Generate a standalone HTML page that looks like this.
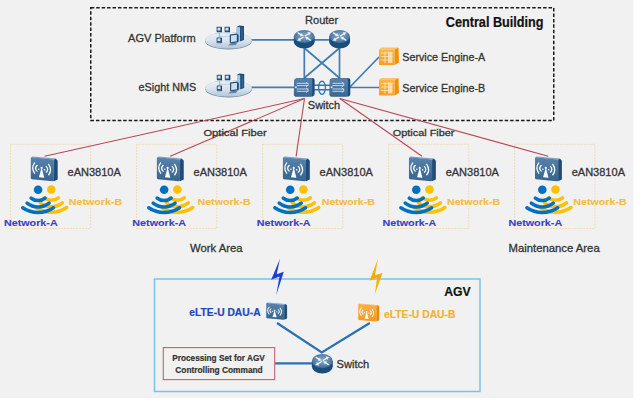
<!DOCTYPE html>
<html><head><meta charset="utf-8"><title>AGV Network</title>
<style>
html,body{margin:0;padding:0;background:#fff;width:640px;height:402px;overflow:hidden;}
svg{display:block;font-family:"Liberation Sans",sans-serif;}
</style></head>
<body>
<svg width="640" height="402" viewBox="0 0 640 402">
<defs>
 <linearGradient id="gPlat" x1="0" y1="0" x2="0" y2="1">
  <stop offset="0" stop-color="#eef3f7"/>
  <stop offset="0.55" stop-color="#d7e2ec"/>
  <stop offset="1" stop-color="#b3c5d6"/>
 </linearGradient>
 <linearGradient id="gCyl" x1="0" y1="0" x2="0" y2="1">
  <stop offset="0" stop-color="#6b94bb"/>
  <stop offset="1" stop-color="#3f6d98"/>
 </linearGradient>
 <radialGradient id="gCylR" cx="0.5" cy="0.45" r="0.55">
  <stop offset="0" stop-color="#8aa9c8"/>
  <stop offset="0.6" stop-color="#6189b0"/>
  <stop offset="1" stop-color="#3f6c98"/>
 </radialGradient>
 <linearGradient id="gSw" x1="0" y1="0" x2="0" y2="1">
  <stop offset="0" stop-color="#5681ab"/>
  <stop offset="1" stop-color="#3a6691"/>
 </linearGradient>
 <linearGradient id="gAP" x1="0" y1="0" x2="0" y2="1">
  <stop offset="0" stop-color="#5883ad"/>
  <stop offset="1" stop-color="#36638f"/>
 </linearGradient>
 <linearGradient id="gAPo" x1="0" y1="0" x2="0" y2="1">
  <stop offset="0" stop-color="#fbb04a"/>
  <stop offset="1" stop-color="#f39a1e"/>
 </linearGradient>
 <linearGradient id="gSE" x1="0" y1="0" x2="0" y2="1">
  <stop offset="0" stop-color="#fbb448"/>
  <stop offset="1" stop-color="#f6a021"/>
 </linearGradient>
 <linearGradient id="gBoltO" x1="0" y1="0" x2="0" y2="1">
  <stop offset="0" stop-color="#ffc000"/>
  <stop offset="0.5" stop-color="#f8a800"/>
  <stop offset="1" stop-color="#ffc000"/>
 </linearGradient>

 <!-- platform icon: origin = ellipse center -->
 

 <!-- router cylinder: origin = top ellipse center -->
 

 <!-- agv switch cylinder: origin = top ellipse center -->
 

 <!-- L3 switch box: origin top-left of front face -->
 

 <!-- service engine: origin top-left -->
 

 <!-- AP icon: origin top-left -->
 
 
 
 

 <!-- wifi: origin = dot center -->
 
 
</defs>

<rect x="0" y="0" width="640" height="402" fill="#ffffff"/>
<rect x="0" y="0" width="633.4" height="398" fill="#f1f1f1"/>
<rect x="90.75" y="7.75" width="463" height="112.75" fill="none" stroke="#1a1a1a" stroke-width="1.5" stroke-dasharray="3.5 1.95"/>
<rect x="10.50" y="144.3" width="80.2" height="84.2" fill="none" stroke="#f0dcb8" stroke-width="1" stroke-dasharray="2 1"/>
<rect x="136.55" y="144.3" width="80.2" height="84.2" fill="none" stroke="#f0dcb8" stroke-width="1" stroke-dasharray="2 1"/>
<rect x="262.60" y="144.3" width="80.2" height="84.2" fill="none" stroke="#f0dcb8" stroke-width="1" stroke-dasharray="2 1"/>
<rect x="388.65" y="144.3" width="80.2" height="84.2" fill="none" stroke="#f0dcb8" stroke-width="1" stroke-dasharray="2 1"/>
<rect x="514.70" y="144.3" width="80.2" height="84.2" fill="none" stroke="#f0dcb8" stroke-width="1" stroke-dasharray="2 1"/>
<line x1="304.5" y1="98.5" x2="44.5" y2="156.3" stroke="#b8475a" stroke-width="1.1"/>
<line x1="304.5" y1="98.5" x2="170.2" y2="156.3" stroke="#b8475a" stroke-width="1.1"/>
<line x1="304.5" y1="98.5" x2="296.1" y2="156.3" stroke="#b8475a" stroke-width="1.1"/>
<line x1="339.7" y1="98.5" x2="422.0" y2="156.3" stroke="#b8475a" stroke-width="1.1"/>
<line x1="339.7" y1="98.5" x2="548.3" y2="156.3" stroke="#b8475a" stroke-width="1.1"/>
<line x1="250" y1="39.8" x2="340" y2="39.8" stroke="#3f7db4" stroke-width="1.7" fill="none"/>
<line x1="250" y1="87.3" x2="296" y2="87.3" stroke="#3f7db4" stroke-width="1.7" fill="none"/>
<path d="M304.3,45 V79 M339.5,45 V79 M304.3,48 L339.5,78 M339.5,48 L304.3,78" stroke="#3f7db4" stroke-width="1.7" fill="none"/>
<path d="M349.5,87.5 L379,87.5 M349.5,87.5 L379,57" stroke="#3f7db4" stroke-width="1.7" fill="none"/>
<path d="M313,85.3 H331 M313,89.7 H331" stroke="#2e75b6" stroke-width="1.4"/>
<ellipse cx="322" cy="87.7" rx="3.4" ry="6.6" fill="none" stroke="#2e75b6" stroke-width="1.3"/>
<g transform="translate(228.4,40.3)">
  <ellipse cx="0" cy="0.5" rx="23.5" ry="8.7" fill="#7890a8"/>
  <ellipse cx="0" cy="0" rx="23.3" ry="8.3" fill="url(#gPlat)"/>
  <path d="M-10,-4 H4" stroke="#bcd3e8" stroke-width="1" fill="none"/>
  <path d="M-9,-8 V-3" stroke="#8fb0cf" stroke-width="1" fill="none"/>
  <!-- small pcs -->
  <g fill="#a8c4dc">
   <rect x="-11.6" y="-8.3" width="5" height="1.4"/>
   <rect x="-3.6" y="-8.3" width="5" height="1.4"/>
   <rect x="-11.6" y="2.6" width="5" height="1.4"/>
  </g>
  <g fill="#27527c">
   <rect x="-11.8" y="-13.5" width="5.2" height="5.3" rx="0.5"/>
   <rect x="-3.8" y="-13.5" width="5.4" height="5.3" rx="0.5"/>
   <rect x="-11.8" y="-2.9" width="5.2" height="5.4" rx="0.5"/>
  </g>
  <g fill="#1b3f63">
   <rect x="-7.6" y="-12.8" width="1" height="4.6"/>
   <rect x="0.6" y="-12.8" width="1" height="4.6"/>
   <rect x="-7.6" y="-2.2" width="1" height="4.7"/>
  </g>
  <g fill="#cfe2f2">
   <rect x="-10.9" y="-12.6" width="2.9" height="2.8"/>
   <rect x="-2.9" y="-12.6" width="3.0" height="2.8"/>
   <rect x="-10.9" y="-2" width="2.9" height="2.8"/>
  </g>
  <!-- tower -->
  <path d="M8.4,-13.6 L10.8,-14.9 L15.6,-14.2 L15.6,-0.2 L12.2,1 L8.4,0.4 Z" fill="#1f4e79"/>
  <path d="M8.4,-13.6 L11.6,-13 L11.6,1 L8.4,0.4 Z" fill="#a2c6e4"/>
  <path d="M13.3,-12.6 L13.9,-12.7 L13.9,-0.8 L13.3,-0.7 Z" fill="#5583ad"/>
  <!-- monitor -->
  <path d="M1.4,-5.8 L8.4,-6.7 L10.2,-5.2 L10.2,1.8 L3.2,3.4 L1.4,2.2 Z" fill="#234b73"/>
  <path d="M2.6,-4.8 L8.4,-5.5 L8.4,1 L2.6,2 Z" fill="#cadff1"/>
  <path d="M-0.6,5.2 L2.4,3 L9,2.2 L7.4,4.8 Z" fill="#5a86ae"/>
 </g>
<g transform="translate(228.6,88.3)">
  <ellipse cx="0" cy="0.5" rx="23.5" ry="8.7" fill="#7890a8"/>
  <ellipse cx="0" cy="0" rx="23.3" ry="8.3" fill="url(#gPlat)"/>
  <path d="M-10,-4 H4" stroke="#bcd3e8" stroke-width="1" fill="none"/>
  <path d="M-9,-8 V-3" stroke="#8fb0cf" stroke-width="1" fill="none"/>
  <!-- small pcs -->
  <g fill="#a8c4dc">
   <rect x="-11.6" y="-8.3" width="5" height="1.4"/>
   <rect x="-3.6" y="-8.3" width="5" height="1.4"/>
   <rect x="-11.6" y="2.6" width="5" height="1.4"/>
  </g>
  <g fill="#27527c">
   <rect x="-11.8" y="-13.5" width="5.2" height="5.3" rx="0.5"/>
   <rect x="-3.8" y="-13.5" width="5.4" height="5.3" rx="0.5"/>
   <rect x="-11.8" y="-2.9" width="5.2" height="5.4" rx="0.5"/>
  </g>
  <g fill="#1b3f63">
   <rect x="-7.6" y="-12.8" width="1" height="4.6"/>
   <rect x="0.6" y="-12.8" width="1" height="4.6"/>
   <rect x="-7.6" y="-2.2" width="1" height="4.7"/>
  </g>
  <g fill="#cfe2f2">
   <rect x="-10.9" y="-12.6" width="2.9" height="2.8"/>
   <rect x="-2.9" y="-12.6" width="3.0" height="2.8"/>
   <rect x="-10.9" y="-2" width="2.9" height="2.8"/>
  </g>
  <!-- tower -->
  <path d="M8.4,-13.6 L10.8,-14.9 L15.6,-14.2 L15.6,-0.2 L12.2,1 L8.4,0.4 Z" fill="#1f4e79"/>
  <path d="M8.4,-13.6 L11.6,-13 L11.6,1 L8.4,0.4 Z" fill="#a2c6e4"/>
  <path d="M13.3,-12.6 L13.9,-12.7 L13.9,-0.8 L13.3,-0.7 Z" fill="#5583ad"/>
  <!-- monitor -->
  <path d="M1.4,-5.8 L8.4,-6.7 L10.2,-5.2 L10.2,1.8 L3.2,3.4 L1.4,2.2 Z" fill="#234b73"/>
  <path d="M2.6,-4.8 L8.4,-5.5 L8.4,1 L2.6,2 Z" fill="#cadff1"/>
  <path d="M-0.6,5.2 L2.4,3 L9,2.2 L7.4,4.8 Z" fill="#5a86ae"/>
 </g>
<g transform="translate(304.2,36.5)">
  <ellipse cx="0" cy="5.4" rx="10.4" ry="6.5" fill="#1b4d7b"/>
  <rect x="-10.4" y="0" width="20.8" height="5.4" fill="#1b4d7b"/>
  <ellipse cx="0" cy="0" rx="10.4" ry="6.4" fill="url(#gCylR)"/>
  <g fill="#eef4fa" stroke="#eef4fa" stroke-linecap="round">
   <!-- top-left inward -->
   <path d="M-6.2,-3.6 L-2.6,-1.4" stroke-width="1.3"/>
   <path d="M-1.2,-0.5 L-4.2,-0.6 L-2.6,-3.0 Z" stroke-width="0.3"/>
   <!-- bottom-right inward -->
   <path d="M6.2,3.6 L2.6,1.4" stroke-width="1.3"/>
   <path d="M1.2,0.5 L4.2,0.6 L2.6,3.0 Z" stroke-width="0.3"/>
   <!-- top-right outward -->
   <path d="M1.0,-0.8 L4.6,-2.9" stroke-width="1.3"/>
   <path d="M6.6,-4.1 L3.4,-4.3 L5.0,-1.6 Z" stroke-width="0.3"/>
   <!-- bottom-left outward -->
   <path d="M-1.0,0.8 L-4.6,2.9" stroke-width="1.3"/>
   <path d="M-6.6,4.1 L-3.4,4.3 L-5.0,1.6 Z" stroke-width="0.3"/>
  </g>
 </g>
<g transform="translate(339.6,36.5)">
  <ellipse cx="0" cy="5.4" rx="10.4" ry="6.5" fill="#1b4d7b"/>
  <rect x="-10.4" y="0" width="20.8" height="5.4" fill="#1b4d7b"/>
  <ellipse cx="0" cy="0" rx="10.4" ry="6.4" fill="url(#gCylR)"/>
  <g fill="#eef4fa" stroke="#eef4fa" stroke-linecap="round">
   <!-- top-left inward -->
   <path d="M-6.2,-3.6 L-2.6,-1.4" stroke-width="1.3"/>
   <path d="M-1.2,-0.5 L-4.2,-0.6 L-2.6,-3.0 Z" stroke-width="0.3"/>
   <!-- bottom-right inward -->
   <path d="M6.2,3.6 L2.6,1.4" stroke-width="1.3"/>
   <path d="M1.2,0.5 L4.2,0.6 L2.6,3.0 Z" stroke-width="0.3"/>
   <!-- top-right outward -->
   <path d="M1.0,-0.8 L4.6,-2.9" stroke-width="1.3"/>
   <path d="M6.6,-4.1 L3.4,-4.3 L5.0,-1.6 Z" stroke-width="0.3"/>
   <!-- bottom-left outward -->
   <path d="M-1.0,0.8 L-4.6,2.9" stroke-width="1.3"/>
   <path d="M-6.6,4.1 L-3.4,4.3 L-5.0,1.6 Z" stroke-width="0.3"/>
  </g>
 </g>
<g transform="translate(293.7,78)">
  <path d="M0.5,2.6 Q1,0.3 3,0.2 L19.5,0.2 Q20.9,0.4 20.9,2 L20.9,16 Q20.9,17.8 19,18.4 L2,18.5 Q0.2,18.4 0.2,16.5 Z" fill="#1d4c78"/>
  <path d="M0.4,2.8 Q0.8,0.6 3,0.5 L17,0.5 Q18.6,0.8 18.6,3 L18.6,16.6 Q18.5,18.4 16.6,18.5 L2,18.5 Q0.2,18.4 0.2,16.5 Z" fill="url(#gSw)"/>
  <g stroke="#d4e2f0" stroke-width="0.9" fill="none" stroke-linecap="round">
   <path d="M3.4,5.3 H14.4 M3.4,7.6 H14.4 M3.4,11 H14.4 M3.4,13.3 H14.4"/>
   <path d="M12.6,4.3 L14.8,6.45 L12.6,8.6 M12.6,10 L14.8,12.15 L12.6,14.3" stroke-linejoin="round"/>
  </g>
  <circle cx="2.2" cy="9.2" r="1" fill="#dfe9c8"/>
 </g>
<g transform="translate(329.4,78)">
  <path d="M0.5,2.6 Q1,0.3 3,0.2 L19.5,0.2 Q20.9,0.4 20.9,2 L20.9,16 Q20.9,17.8 19,18.4 L2,18.5 Q0.2,18.4 0.2,16.5 Z" fill="#1d4c78"/>
  <path d="M0.4,2.8 Q0.8,0.6 3,0.5 L17,0.5 Q18.6,0.8 18.6,3 L18.6,16.6 Q18.5,18.4 16.6,18.5 L2,18.5 Q0.2,18.4 0.2,16.5 Z" fill="url(#gSw)"/>
  <g stroke="#d4e2f0" stroke-width="0.9" fill="none" stroke-linecap="round">
   <path d="M3.4,5.3 H14.4 M3.4,7.6 H14.4 M3.4,11 H14.4 M3.4,13.3 H14.4"/>
   <path d="M12.6,4.3 L14.8,6.45 L12.6,8.6 M12.6,10 L14.8,12.15 L12.6,14.3" stroke-linejoin="round"/>
  </g>
  <circle cx="2.2" cy="9.2" r="1" fill="#dfe9c8"/>
 </g>
<g transform="translate(379,47.5)">
  <path d="M0,2 L2,0 L19.5,0 L15.5,2 Z" fill="#fcc46a"/>
  <path d="M15.5,2 L19.5,0 L20,15 L15.5,17.5 Z" fill="#f39200"/>
  <rect x="0" y="2" width="15.5" height="15.5" fill="url(#gSE)"/>
  <g stroke="#fde3b5" stroke-width="0.9" fill="none">
   <path d="M2,5.5 H13.5 M2,9 H13.5 M2,12.5 H13.5"/>
   <path d="M6,4 V15.5 M9.5,4 V15.5"/>
  </g>
  <rect x="9.8" y="4.5" width="3.6" height="11" fill="#fde7c2" opacity="0.8"/>
 </g>
<g transform="translate(379,78)">
  <path d="M0,2 L2,0 L19.5,0 L15.5,2 Z" fill="#fcc46a"/>
  <path d="M15.5,2 L19.5,0 L20,15 L15.5,17.5 Z" fill="#f39200"/>
  <rect x="0" y="2" width="15.5" height="15.5" fill="url(#gSE)"/>
  <g stroke="#fde3b5" stroke-width="0.9" fill="none">
   <path d="M2,5.5 H13.5 M2,9 H13.5 M2,12.5 H13.5"/>
   <path d="M6,4 V15.5 M9.5,4 V15.5"/>
  </g>
  <rect x="9.8" y="4.5" width="3.6" height="11" fill="#fde7c2" opacity="0.8"/>
 </g>
<g transform="translate(51.30,189.5)">
  <circle cx="0" cy="0" r="4.3" fill="#ffc000"/>
  <g stroke="#ffc000" stroke-width="3.5" fill="none" stroke-linecap="round">
   <path d="M-7,8.3 A11,11 0 0 0 7,8.3"/>
   <path d="M-11,13.4 A17.8,17.8 0 0 0 11,13.4"/>
   <path d="M-15.4,18 A27.1,27.1 0 0 0 15.4,18"/>
  </g>
 </g>
<g transform="translate(38.10,189.8)">
  <circle cx="0" cy="0" r="4.3" fill="#0070c0"/>
  <g stroke="#0070c0" stroke-width="3.5" fill="none" stroke-linecap="round">
   <path d="M-7,8.3 A11,11 0 0 0 7,8.3"/>
   <path d="M-11,13.4 A17.8,17.8 0 0 0 11,13.4"/>
   <path d="M-15.4,18 A27.1,27.1 0 0 0 15.4,18"/>
  </g>
 </g>
<g transform="translate(30.50,156.2)">
  <path d="M0.6,1.0 L2,0.3 L25.2,2.4 L23.4,3.5 Z" fill="#7d9fc2"/>
  <path d="M23.4,3.5 L25.2,2.4 L27.2,4.6 L27.2,23.4 L23.4,25.1 Z" fill="#1e4d79"/>
  <path d="M0.3,2.1 Q0.3,0.9 1.5,1 L22.4,3.3 Q23.4,3.4 23.4,4.5 L23.4,24 Q23.4,25.1 22.3,25 L1.3,23 Q0.3,22.9 0.3,21.9 Z" fill="url(#gAP)"/>
  <g transform="skewY(6.2)">
   <g stroke="#fff" stroke-width="1.25" fill="none" stroke-linecap="round">
    <path d="M4.1,6.2 Q0.3,11.4 4.1,16.6"/>
    <path d="M6.5,8.5 Q3.6,11.4 6.5,14.3"/>
    <path d="M15.7,8.5 Q18.6,11.4 15.7,14.3"/>
    <path d="M18.1,6.2 Q21.9,11.4 18.1,16.6"/>
   </g>
   <g fill="#fff">
    <circle cx="8.2" cy="12.1" r="0.8"/>
    <circle cx="14" cy="12.1" r="0.8"/>
    <path d="M11.1,10.2 L8.4,20.1 L13.8,20.1 Z"/>
    <circle cx="11.1" cy="10.5" r="1.1"/>
   </g>
  </g>
 </g>
<g transform="translate(177.35,189.5)">
  <circle cx="0" cy="0" r="4.3" fill="#ffc000"/>
  <g stroke="#ffc000" stroke-width="3.5" fill="none" stroke-linecap="round">
   <path d="M-7,8.3 A11,11 0 0 0 7,8.3"/>
   <path d="M-11,13.4 A17.8,17.8 0 0 0 11,13.4"/>
   <path d="M-15.4,18 A27.1,27.1 0 0 0 15.4,18"/>
  </g>
 </g>
<g transform="translate(164.15,189.8)">
  <circle cx="0" cy="0" r="4.3" fill="#0070c0"/>
  <g stroke="#0070c0" stroke-width="3.5" fill="none" stroke-linecap="round">
   <path d="M-7,8.3 A11,11 0 0 0 7,8.3"/>
   <path d="M-11,13.4 A17.8,17.8 0 0 0 11,13.4"/>
   <path d="M-15.4,18 A27.1,27.1 0 0 0 15.4,18"/>
  </g>
 </g>
<g transform="translate(156.55,156.2)">
  <path d="M0.6,1.0 L2,0.3 L25.2,2.4 L23.4,3.5 Z" fill="#7d9fc2"/>
  <path d="M23.4,3.5 L25.2,2.4 L27.2,4.6 L27.2,23.4 L23.4,25.1 Z" fill="#1e4d79"/>
  <path d="M0.3,2.1 Q0.3,0.9 1.5,1 L22.4,3.3 Q23.4,3.4 23.4,4.5 L23.4,24 Q23.4,25.1 22.3,25 L1.3,23 Q0.3,22.9 0.3,21.9 Z" fill="url(#gAP)"/>
  <g transform="skewY(6.2)">
   <g stroke="#fff" stroke-width="1.25" fill="none" stroke-linecap="round">
    <path d="M4.1,6.2 Q0.3,11.4 4.1,16.6"/>
    <path d="M6.5,8.5 Q3.6,11.4 6.5,14.3"/>
    <path d="M15.7,8.5 Q18.6,11.4 15.7,14.3"/>
    <path d="M18.1,6.2 Q21.9,11.4 18.1,16.6"/>
   </g>
   <g fill="#fff">
    <circle cx="8.2" cy="12.1" r="0.8"/>
    <circle cx="14" cy="12.1" r="0.8"/>
    <path d="M11.1,10.2 L8.4,20.1 L13.8,20.1 Z"/>
    <circle cx="11.1" cy="10.5" r="1.1"/>
   </g>
  </g>
 </g>
<g transform="translate(303.40,189.5)">
  <circle cx="0" cy="0" r="4.3" fill="#ffc000"/>
  <g stroke="#ffc000" stroke-width="3.5" fill="none" stroke-linecap="round">
   <path d="M-7,8.3 A11,11 0 0 0 7,8.3"/>
   <path d="M-11,13.4 A17.8,17.8 0 0 0 11,13.4"/>
   <path d="M-15.4,18 A27.1,27.1 0 0 0 15.4,18"/>
  </g>
 </g>
<g transform="translate(290.20,189.8)">
  <circle cx="0" cy="0" r="4.3" fill="#0070c0"/>
  <g stroke="#0070c0" stroke-width="3.5" fill="none" stroke-linecap="round">
   <path d="M-7,8.3 A11,11 0 0 0 7,8.3"/>
   <path d="M-11,13.4 A17.8,17.8 0 0 0 11,13.4"/>
   <path d="M-15.4,18 A27.1,27.1 0 0 0 15.4,18"/>
  </g>
 </g>
<g transform="translate(282.60,156.2)">
  <path d="M0.6,1.0 L2,0.3 L25.2,2.4 L23.4,3.5 Z" fill="#7d9fc2"/>
  <path d="M23.4,3.5 L25.2,2.4 L27.2,4.6 L27.2,23.4 L23.4,25.1 Z" fill="#1e4d79"/>
  <path d="M0.3,2.1 Q0.3,0.9 1.5,1 L22.4,3.3 Q23.4,3.4 23.4,4.5 L23.4,24 Q23.4,25.1 22.3,25 L1.3,23 Q0.3,22.9 0.3,21.9 Z" fill="url(#gAP)"/>
  <g transform="skewY(6.2)">
   <g stroke="#fff" stroke-width="1.25" fill="none" stroke-linecap="round">
    <path d="M4.1,6.2 Q0.3,11.4 4.1,16.6"/>
    <path d="M6.5,8.5 Q3.6,11.4 6.5,14.3"/>
    <path d="M15.7,8.5 Q18.6,11.4 15.7,14.3"/>
    <path d="M18.1,6.2 Q21.9,11.4 18.1,16.6"/>
   </g>
   <g fill="#fff">
    <circle cx="8.2" cy="12.1" r="0.8"/>
    <circle cx="14" cy="12.1" r="0.8"/>
    <path d="M11.1,10.2 L8.4,20.1 L13.8,20.1 Z"/>
    <circle cx="11.1" cy="10.5" r="1.1"/>
   </g>
  </g>
 </g>
<g transform="translate(429.45,189.5)">
  <circle cx="0" cy="0" r="4.3" fill="#ffc000"/>
  <g stroke="#ffc000" stroke-width="3.5" fill="none" stroke-linecap="round">
   <path d="M-7,8.3 A11,11 0 0 0 7,8.3"/>
   <path d="M-11,13.4 A17.8,17.8 0 0 0 11,13.4"/>
   <path d="M-15.4,18 A27.1,27.1 0 0 0 15.4,18"/>
  </g>
 </g>
<g transform="translate(416.25,189.8)">
  <circle cx="0" cy="0" r="4.3" fill="#0070c0"/>
  <g stroke="#0070c0" stroke-width="3.5" fill="none" stroke-linecap="round">
   <path d="M-7,8.3 A11,11 0 0 0 7,8.3"/>
   <path d="M-11,13.4 A17.8,17.8 0 0 0 11,13.4"/>
   <path d="M-15.4,18 A27.1,27.1 0 0 0 15.4,18"/>
  </g>
 </g>
<g transform="translate(408.65,156.2)">
  <path d="M0.6,1.0 L2,0.3 L25.2,2.4 L23.4,3.5 Z" fill="#7d9fc2"/>
  <path d="M23.4,3.5 L25.2,2.4 L27.2,4.6 L27.2,23.4 L23.4,25.1 Z" fill="#1e4d79"/>
  <path d="M0.3,2.1 Q0.3,0.9 1.5,1 L22.4,3.3 Q23.4,3.4 23.4,4.5 L23.4,24 Q23.4,25.1 22.3,25 L1.3,23 Q0.3,22.9 0.3,21.9 Z" fill="url(#gAP)"/>
  <g transform="skewY(6.2)">
   <g stroke="#fff" stroke-width="1.25" fill="none" stroke-linecap="round">
    <path d="M4.1,6.2 Q0.3,11.4 4.1,16.6"/>
    <path d="M6.5,8.5 Q3.6,11.4 6.5,14.3"/>
    <path d="M15.7,8.5 Q18.6,11.4 15.7,14.3"/>
    <path d="M18.1,6.2 Q21.9,11.4 18.1,16.6"/>
   </g>
   <g fill="#fff">
    <circle cx="8.2" cy="12.1" r="0.8"/>
    <circle cx="14" cy="12.1" r="0.8"/>
    <path d="M11.1,10.2 L8.4,20.1 L13.8,20.1 Z"/>
    <circle cx="11.1" cy="10.5" r="1.1"/>
   </g>
  </g>
 </g>
<g transform="translate(555.50,189.5)">
  <circle cx="0" cy="0" r="4.3" fill="#ffc000"/>
  <g stroke="#ffc000" stroke-width="3.5" fill="none" stroke-linecap="round">
   <path d="M-7,8.3 A11,11 0 0 0 7,8.3"/>
   <path d="M-11,13.4 A17.8,17.8 0 0 0 11,13.4"/>
   <path d="M-15.4,18 A27.1,27.1 0 0 0 15.4,18"/>
  </g>
 </g>
<g transform="translate(542.30,189.8)">
  <circle cx="0" cy="0" r="4.3" fill="#0070c0"/>
  <g stroke="#0070c0" stroke-width="3.5" fill="none" stroke-linecap="round">
   <path d="M-7,8.3 A11,11 0 0 0 7,8.3"/>
   <path d="M-11,13.4 A17.8,17.8 0 0 0 11,13.4"/>
   <path d="M-15.4,18 A27.1,27.1 0 0 0 15.4,18"/>
  </g>
 </g>
<g transform="translate(534.70,156.2)">
  <path d="M0.6,1.0 L2,0.3 L25.2,2.4 L23.4,3.5 Z" fill="#7d9fc2"/>
  <path d="M23.4,3.5 L25.2,2.4 L27.2,4.6 L27.2,23.4 L23.4,25.1 Z" fill="#1e4d79"/>
  <path d="M0.3,2.1 Q0.3,0.9 1.5,1 L22.4,3.3 Q23.4,3.4 23.4,4.5 L23.4,24 Q23.4,25.1 22.3,25 L1.3,23 Q0.3,22.9 0.3,21.9 Z" fill="url(#gAP)"/>
  <g transform="skewY(6.2)">
   <g stroke="#fff" stroke-width="1.25" fill="none" stroke-linecap="round">
    <path d="M4.1,6.2 Q0.3,11.4 4.1,16.6"/>
    <path d="M6.5,8.5 Q3.6,11.4 6.5,14.3"/>
    <path d="M15.7,8.5 Q18.6,11.4 15.7,14.3"/>
    <path d="M18.1,6.2 Q21.9,11.4 18.1,16.6"/>
   </g>
   <g fill="#fff">
    <circle cx="8.2" cy="12.1" r="0.8"/>
    <circle cx="14" cy="12.1" r="0.8"/>
    <path d="M11.1,10.2 L8.4,20.1 L13.8,20.1 Z"/>
    <circle cx="11.1" cy="10.5" r="1.1"/>
   </g>
  </g>
 </g>
<rect x="154.5" y="279" width="325.5" height="112.5" fill="none" stroke="#7ac3e6" stroke-width="1.5"/>
<rect x="163.3" y="347.6" width="111.4" height="32" fill="none" stroke="#c4606f" stroke-width="1.1"/>
<path d="M277,323 L321.8,352.5 L369.8,323 M275.2,363.3 H312" stroke="#2872b3" stroke-width="2.2" fill="none"/>
<path d="M280,258.8 L271.2,279.8 L279.5,276.6 L276.2,295.3 L283.8,271.8 L276.7,274.2 Z" fill="#1c3fd0"/>
<path d="M378,258.4 L369.6,280.8 L377.2,277.6 L374.6,295.3 L382.4,272.9 L375,275.2 Z" fill="url(#gBoltO)"/>
<g transform="translate(266,302.4)"><g transform="scale(0.775,0.69)">
  <path d="M0.6,1.0 L2,0.3 L25.2,2.4 L23.4,3.5 Z" fill="#7d9fc2"/>
  <path d="M23.4,3.5 L25.2,2.4 L27.2,4.6 L27.2,23.4 L23.4,25.1 Z" fill="#1e4d79"/>
  <path d="M0.3,2.1 Q0.3,0.9 1.5,1 L22.4,3.3 Q23.4,3.4 23.4,4.5 L23.4,24 Q23.4,25.1 22.3,25 L1.3,23 Q0.3,22.9 0.3,21.9 Z" fill="url(#gAP)"/>
  <g transform="skewY(6.2)">
   <g stroke="#fff" stroke-width="1.25" fill="none" stroke-linecap="round">
    <path d="M4.1,6.2 Q0.3,11.4 4.1,16.6"/>
    <path d="M6.5,8.5 Q3.6,11.4 6.5,14.3"/>
    <path d="M15.7,8.5 Q18.6,11.4 15.7,14.3"/>
    <path d="M18.1,6.2 Q21.9,11.4 18.1,16.6"/>
   </g>
   <g fill="#fff">
    <circle cx="8.2" cy="12.1" r="0.8"/>
    <circle cx="14" cy="12.1" r="0.8"/>
    <path d="M11.1,10.2 L8.4,20.1 L13.8,20.1 Z"/>
    <circle cx="11.1" cy="10.5" r="1.1"/>
   </g>
  </g>
 </g></g>
<g transform="translate(358,303.2)"><g transform="scale(0.78,0.73)">
  <path d="M0.6,1.0 L2,0.3 L25.2,2.4 L23.4,3.5 Z" fill="#fcc46a"/>
  <path d="M23.4,3.5 L25.2,2.4 L27.2,4.6 L27.2,23.4 L23.4,25.1 Z" fill="#e98a00"/>
  <path d="M0.3,2.1 Q0.3,0.9 1.5,1 L22.4,3.3 Q23.4,3.4 23.4,4.5 L23.4,24 Q23.4,25.1 22.3,25 L1.3,23 Q0.3,22.9 0.3,21.9 Z" fill="url(#gAPo)"/>
  <g transform="skewY(6.2)">
   <g stroke="#fff" stroke-width="1.25" fill="none" stroke-linecap="round">
    <path d="M4.1,6.2 Q0.3,11.4 4.1,16.6"/>
    <path d="M6.5,8.5 Q3.6,11.4 6.5,14.3"/>
    <path d="M15.7,8.5 Q18.6,11.4 15.7,14.3"/>
    <path d="M18.1,6.2 Q21.9,11.4 18.1,16.6"/>
   </g>
   <g fill="#fff">
    <circle cx="8.2" cy="12.1" r="0.8"/>
    <circle cx="14" cy="12.1" r="0.8"/>
    <path d="M11.1,10.2 L8.4,20.1 L13.8,20.1 Z"/>
    <circle cx="11.1" cy="10.5" r="1.1"/>
   </g>
  </g>
 </g></g>
<g transform="translate(322.3,361)">
  <ellipse cx="0" cy="5.6" rx="10.45" ry="6.9" fill="#1b4d7b"/>
  <rect x="-10.45" y="0" width="20.9" height="5.6" fill="#1b4d7b"/>
  <ellipse cx="0" cy="0" rx="10.45" ry="6.9" fill="url(#gCylR)"/>
  <g fill="#eef4fa" stroke="#eef4fa" stroke-linecap="round">
   <!-- top-left inward -->
   <path d="M-6.2,-3.6 L-2.6,-1.4" stroke-width="1.3"/>
   <path d="M-1.2,-0.5 L-4.2,-0.6 L-2.6,-3.0 Z" stroke-width="0.3"/>
   <!-- bottom-right inward -->
   <path d="M6.2,3.6 L2.6,1.4" stroke-width="1.3"/>
   <path d="M1.2,0.5 L4.2,0.6 L2.6,3.0 Z" stroke-width="0.3"/>
   <!-- top-right outward -->
   <path d="M1.0,-0.8 L4.6,-2.9" stroke-width="1.3"/>
   <path d="M6.6,-4.1 L3.4,-4.3 L5.0,-1.6 Z" stroke-width="0.3"/>
   <!-- bottom-left outward -->
   <path d="M-1.0,0.8 L-4.6,2.9" stroke-width="1.3"/>
   <path d="M-6.6,4.1 L-3.4,4.3 L-5.0,1.6 Z" stroke-width="0.3"/>
  </g>
 </g>
<g font-family="Liberation Sans, sans-serif">
<text x="128.00" y="42.25" font-size="11.03" fill="#333333" textLength="67.60" lengthAdjust="spacingAndGlyphs" stroke="#333333" stroke-width="0.28">AGV Platform</text>
<text x="138.50" y="90.80" font-size="11.10" fill="#333333" textLength="57.70" lengthAdjust="spacingAndGlyphs" stroke="#333333" stroke-width="0.28">eSight NMS</text>
<text x="305.00" y="24.00" font-size="10.61" fill="#333333" textLength="33.20" lengthAdjust="spacingAndGlyphs" stroke="#333333" stroke-width="0.28">Router</text>
<text x="307.80" y="109.30" font-size="10.39" fill="#333333" textLength="32.40" lengthAdjust="spacingAndGlyphs" stroke="#333333" stroke-width="0.28">Switch</text>
<text x="402.30" y="61.10" font-size="10.90" fill="#333333" textLength="82.90" lengthAdjust="spacingAndGlyphs" stroke="#333333" stroke-width="0.28">Service Engine-A</text>
<text x="402.30" y="92.00" font-size="10.90" fill="#333333" textLength="82.90" lengthAdjust="spacingAndGlyphs" stroke="#333333" stroke-width="0.28">Service Engine-B</text>
<text x="445.80" y="26.60" font-size="13.90" fill="#111" font-weight="bold" textLength="97.80" lengthAdjust="spacingAndGlyphs" stroke="#111" stroke-width="0.2">Central Building</text>
<text x="203.40" y="135.60" font-size="9.27" fill="#333333" textLength="63.30" lengthAdjust="spacingAndGlyphs" stroke="#333333" stroke-width="0.28">Optical Fiber</text>
<text x="392.70" y="135.60" font-size="9.27" fill="#333333" textLength="61.80" lengthAdjust="spacingAndGlyphs" stroke="#333333" stroke-width="0.28">Optical Fiber</text>
<text x="67.50" y="176.00" font-size="10.61" fill="#333333" textLength="53.30" lengthAdjust="spacingAndGlyphs" stroke="#333333" stroke-width="0.28">eAN3810A</text>
<text x="68.80" y="205.40" font-size="9.41" fill="#f4bc3c" font-weight="bold" textLength="53.40" lengthAdjust="spacingAndGlyphs" stroke="#f4bc3c" stroke-width="0.08">Network-B</text>
<text x="3.90" y="225.60" font-size="9.55" fill="#3a40c4" font-weight="bold" textLength="53.80" lengthAdjust="spacingAndGlyphs" stroke="#3a40c4" stroke-width="0.1">Network-A</text>
<text x="193.55" y="176.00" font-size="10.61" fill="#333333" textLength="53.30" lengthAdjust="spacingAndGlyphs" stroke="#333333" stroke-width="0.28">eAN3810A</text>
<text x="197.45" y="205.40" font-size="9.41" fill="#f4bc3c" font-weight="bold" textLength="53.40" lengthAdjust="spacingAndGlyphs" stroke="#f4bc3c" stroke-width="0.08">Network-B</text>
<text x="132.30" y="225.60" font-size="9.55" fill="#3a40c4" font-weight="bold" textLength="53.80" lengthAdjust="spacingAndGlyphs" stroke="#3a40c4" stroke-width="0.1">Network-A</text>
<text x="319.60" y="176.00" font-size="10.61" fill="#333333" textLength="53.30" lengthAdjust="spacingAndGlyphs" stroke="#333333" stroke-width="0.28">eAN3810A</text>
<text x="321.70" y="205.40" font-size="9.41" fill="#f4bc3c" font-weight="bold" textLength="53.40" lengthAdjust="spacingAndGlyphs" stroke="#f4bc3c" stroke-width="0.08">Network-B</text>
<text x="256.80" y="225.60" font-size="9.55" fill="#3a40c4" font-weight="bold" textLength="53.80" lengthAdjust="spacingAndGlyphs" stroke="#3a40c4" stroke-width="0.1">Network-A</text>
<text x="445.65" y="176.00" font-size="10.61" fill="#333333" textLength="53.30" lengthAdjust="spacingAndGlyphs" stroke="#333333" stroke-width="0.28">eAN3810A</text>
<text x="446.95" y="205.40" font-size="9.41" fill="#f4bc3c" font-weight="bold" textLength="53.40" lengthAdjust="spacingAndGlyphs" stroke="#f4bc3c" stroke-width="0.08">Network-B</text>
<text x="382.40" y="225.60" font-size="9.55" fill="#3a40c4" font-weight="bold" textLength="53.80" lengthAdjust="spacingAndGlyphs" stroke="#3a40c4" stroke-width="0.1">Network-A</text>
<text x="571.70" y="176.00" font-size="10.61" fill="#333333" textLength="53.30" lengthAdjust="spacingAndGlyphs" stroke="#333333" stroke-width="0.28">eAN3810A</text>
<text x="573.30" y="205.40" font-size="9.41" fill="#f4bc3c" font-weight="bold" textLength="53.40" lengthAdjust="spacingAndGlyphs" stroke="#f4bc3c" stroke-width="0.08">Network-B</text>
<text x="508.40" y="225.60" font-size="9.55" fill="#3a40c4" font-weight="bold" textLength="53.80" lengthAdjust="spacingAndGlyphs" stroke="#3a40c4" stroke-width="0.1">Network-A</text>
<text x="190.00" y="251.60" font-size="10.39" fill="#333333" textLength="52.50" lengthAdjust="spacingAndGlyphs" stroke="#333333" stroke-width="0.28">Work Area</text>
<text x="508.60" y="251.70" font-size="10.90" fill="#333333" textLength="91.10" lengthAdjust="spacingAndGlyphs" stroke="#333333" stroke-width="0.28">Maintenance Area</text>
<text x="444.20" y="296.10" font-size="13.52" fill="#111" font-weight="bold" textLength="26.50" lengthAdjust="spacingAndGlyphs" stroke="#111" stroke-width="0.2">AGV</text>
<text x="189.30" y="315.70" font-size="10.17" fill="#2547bd" font-weight="bold" textLength="71.30" lengthAdjust="spacingAndGlyphs" stroke="#2547bd" stroke-width="0.2">eLTE-U DAU-A</text>
<text x="383.90" y="317.80" font-size="10.03" fill="#f2b233" font-weight="bold" textLength="71.60" lengthAdjust="spacingAndGlyphs" stroke="#f2b233" stroke-width="0.2">eLTE-U DAU-B</text>
<text x="172.30" y="361.30" font-size="8.57" fill="#333333" font-weight="bold" textLength="92.50" lengthAdjust="spacingAndGlyphs" stroke="#333333" stroke-width="0.2">Processing Set for AGV</text>
<text x="175.30" y="373.00" font-size="8.43" fill="#333333" font-weight="bold" textLength="87.40" lengthAdjust="spacingAndGlyphs" stroke="#333333" stroke-width="0.2">Controlling Command</text>
<text x="336.50" y="367.90" font-size="10.67" fill="#333333" textLength="32.70" lengthAdjust="spacingAndGlyphs" stroke="#333333" stroke-width="0.28">Switch</text>
</g></svg>
</body></html>
